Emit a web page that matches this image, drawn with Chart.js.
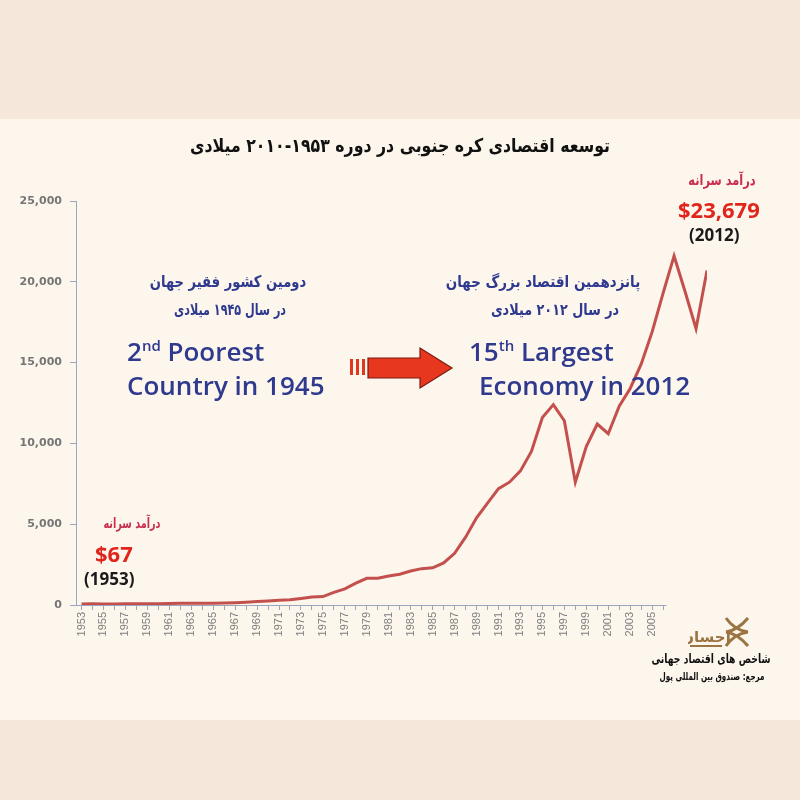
<!DOCTYPE html>
<html>
<head>
<meta charset="utf-8">
<script src="https://cdn.jsdelivr.net/npm/chart.js@4.4.1/dist/chart.umd.min.js"></script>
<style>
  html, body { margin: 0; padding: 0; }
  body { width: 800px; height: 800px; overflow: hidden;
    background: linear-gradient(#f5e8da 0, #f5e8da 119px, #fcf6ec 119px, #fcf6ec 720px, #f5e8da 720px); }
  #wrap { position: relative; width: 800px; height: 800px; }
  #chart { position: absolute; left: 0; top: 0; }
  .t { position: absolute; white-space: nowrap; }
  .fa { font-family: "DejaVu Sans", sans-serif; font-weight: bold; direction: rtl; text-align: center; }
  .en { font-family: "Open Sans", sans-serif; font-weight: 600; color: #2f3a8f; font-size: 26px; }
  .blue { color: #2f3a8f; }
  .num { font-family: "Open Sans", sans-serif; font-weight: bold; }
</style>
</head>
<body>
<div id="wrap">
  <canvas id="chart" width="800" height="800"></canvas>

  <div class="t fa" style="left:0;width:800px;top:134px;font-size:19px;color:#111;transform:scaleX(0.83);">توسعه اقتصادی کره جنوبی در دوره ۱۹۵۳-۲۰۱۰ میلادی</div>

  <div class="t fa blue" style="left:128px;width:200px;top:272px;font-size:16px;transform:scaleX(0.82);">دومین کشور فقیر جهان</div>
  <div class="t fa blue" style="left:130px;width:200px;top:300px;font-size:16px;transform:scaleX(0.7);">در سال ۱۹۴۵ میلادی</div>
  <div class="t en" style="left:127px;top:333px;">2<sup style="font-size:15px;">nd</sup> Poorest</div>
  <div class="t en" style="left:127px;top:367px;">Country in 1945</div>

  <div class="t fa blue" style="left:447px;width:210px;top:272px;font-size:16px;transform:scaleX(0.84);">پانزدهمین اقتصاد بزرگ جهان</div>
  <div class="t fa blue" style="left:450px;width:210px;top:300px;font-size:16px;transform:scaleX(0.8);">در سال ۲۰۱۲ میلادی</div>
  <div class="t en" style="left:469px;top:333px;">15<sup style="font-size:15px;">th</sup> Largest</div>
  <div class="t en" style="left:479px;top:367px;">Economy in 2012</div>

  <svg class="t" style="left:348px;top:345px;" width="108" height="46">
    <rect x="2" y="14" width="3" height="16" fill="#e2371f"/>
    <rect x="8" y="14" width="3" height="16" fill="#e2371f"/>
    <rect x="14" y="14" width="3" height="16" fill="#e2371f"/>
    <polygon points="20,13 72,13 72,3 104,23 72,43 72,33 20,33" fill="#e8371f" stroke="#7a1a10" stroke-width="1.2"/>
  </svg>

  <div class="t fa" style="left:82px;width:100px;top:515px;font-size:14px;color:#c92e4e;transform:scaleX(0.69);">درآمد سرانه</div>
  <div class="t num" style="left:95px;top:538px;font-size:22px;color:#e0251d;">$67</div>
  <div class="t num" style="left:84px;top:567px;font-size:17px;color:#1a1a1a;">(1953)</div>

  <div class="t fa" style="left:672px;width:100px;top:171px;font-size:15px;color:#c92e4e;transform:scaleX(0.76);">درآمد سرانه</div>
  <div class="t num" style="left:678px;top:194px;font-size:22px;color:#e0251d;">$23,679</div>
  <div class="t num" style="left:689px;top:223px;font-size:17px;color:#1a1a1a;">(2012)</div>

  <svg class="t" style="left:688px;top:612px;" width="62" height="40">
    <path d="M38 6 Q46 18 60 20 M38 34 Q46 22 60 20 M60 6 Q50 18 38 20 M60 34 Q50 22 38 20" stroke="#9c7443" stroke-width="3" fill="none"/>
    <text x="18" y="30" text-anchor="middle" font-family="DejaVu Sans" font-size="15" font-weight="bold" fill="#9c7443">احسان</text>
    <line x1="2" y1="34" x2="34" y2="34" stroke="#9c7443" stroke-width="2"/>
  </svg>
  <div class="t fa" style="left:611px;width:200px;top:651px;font-size:13px;color:#111;transform:scaleX(0.71);">شاخص های اقتصاد جهانی</div>
  <div class="t fa" style="left:612px;width:200px;top:670px;font-size:11px;color:#111;transform:scaleX(0.65);">مرجع: صندوق بین المللی پول</div>
</div>

<script>
// years 1953..2010 and income per capita (USD)
const years = [1953, 1954, 1955, 1956, 1957, 1958, 1959, 1960, 1961, 1962,
  1963, 1964, 1965, 1966, 1967, 1968, 1969, 1970, 1971, 1972,
  1973, 1974, 1975, 1976, 1977, 1978, 1979, 1980, 1981, 1982,
  1983, 1984, 1985, 1986, 1987, 1988, 1989, 1990, 1991, 1992,
  1993, 1994, 1995, 1996, 1997, 1998, 1999, 2000, 2001, 2002,
  2003, 2004, 2005, 2006, 2007, 2008, 2009, 2010];
const income = [67, 70, 65, 66, 74, 80, 81, 79, 92, 104,
  107, 105, 106, 126, 143, 169, 210, 253, 289, 323,
  405, 500, 520, 780, 1000, 1350, 1650, 1650, 1800, 1900,
  2100, 2250, 2300, 2600, 3200, 4200, 5400, 6300, 7200, 7600,
  8300, 9500, 11600, 12400, 11400, 7600, 9800, 11200, 10600, 12300,
  13400, 14900, 16900, 19300, 21600, 19400, 17100, 20700];
const labelYears = [1953, 1955, 1957, 1959, 1961, 1963, 1965, 1967, 1969, 1971,
  1973, 1975, 1977, 1979, 1981, 1983, 1985, 1987, 1989, 1991,
  1993, 1995, 1997, 1999, 2001, 2003, 2005];
const yTicks = [0, 5000, 10000, 15000, 20000, 25000];
const axisEndYear = 2006.3;

const axisColor = '#9aa6bd';

// x axis line stops short of the data, like the original
const xAxisLine = {
  id: 'xAxisLine',
  afterDraw(chart) {
    const { ctx, chartArea, scales } = chart;
    const x1 = scales.x.getPixelForValue(axisEndYear);
    ctx.save();
    ctx.strokeStyle = axisColor;
    ctx.lineWidth = 1;
    ctx.beginPath();
    ctx.moveTo(chartArea.left - 4, chartArea.bottom + 0.5);
    ctx.lineTo(x1, chartArea.bottom + 0.5);
    ctx.stroke();
    ctx.restore();
  }
};

new Chart(document.getElementById('chart'), {
  type: 'line',
  data: {
    datasets: [{
      data: years.map((y, i) => ({ x: y, y: income[i] })),
      borderColor: '#c4504e',
      borderWidth: 3,
      pointRadius: 0,
      tension: 0,
      fill: false
    }]
  },
  options: {
    responsive: false,
    animation: false,
    layout: { padding: { top: 201, right: 93, bottom: 0, left: 0 } },
    plugins: { legend: { display: false }, tooltip: { enabled: false } },
    scales: {
      x: {
        type: 'linear',
        min: 1952.5,
        max: 2010,
        afterBuildTicks: s => { s.ticks = years.filter(y => y <= axisEndYear).map(v => ({ value: v })); },
        afterFit: s => { s.height = 195; },
        border: { display: false },
        grid: {
          drawOnChartArea: false,
          drawTicks: true,
          tickLength: 5,
          tickColor: axisColor
        },
        ticks: {
          autoSkip: false,
          minRotation: 90,
          maxRotation: 90,
          padding: 2,
          color: '#7f7f7f',
          font: { family: 'Liberation Sans', size: 11 },
          callback: v => labelYears.includes(v) ? String(v) : ''
        }
      },
      y: {
        min: 0,
        max: 25000,
        afterBuildTicks: s => { s.ticks = yTicks.map(v => ({ value: v })); },
        afterFit: s => { s.width = 76; },
        border: { display: true, color: axisColor },
        grid: {
          drawOnChartArea: false,
          drawTicks: true,
          tickLength: 6,
          tickColor: axisColor
        },
        ticks: {
          padding: 8,
          color: '#757575',
          font: { family: 'DejaVu Sans', size: 11, weight: 'bold' },
          callback: v => v.toLocaleString('en-US')
        }
      }
    }
  },
  plugins: [xAxisLine]
});
</script>
</body>
</html>
